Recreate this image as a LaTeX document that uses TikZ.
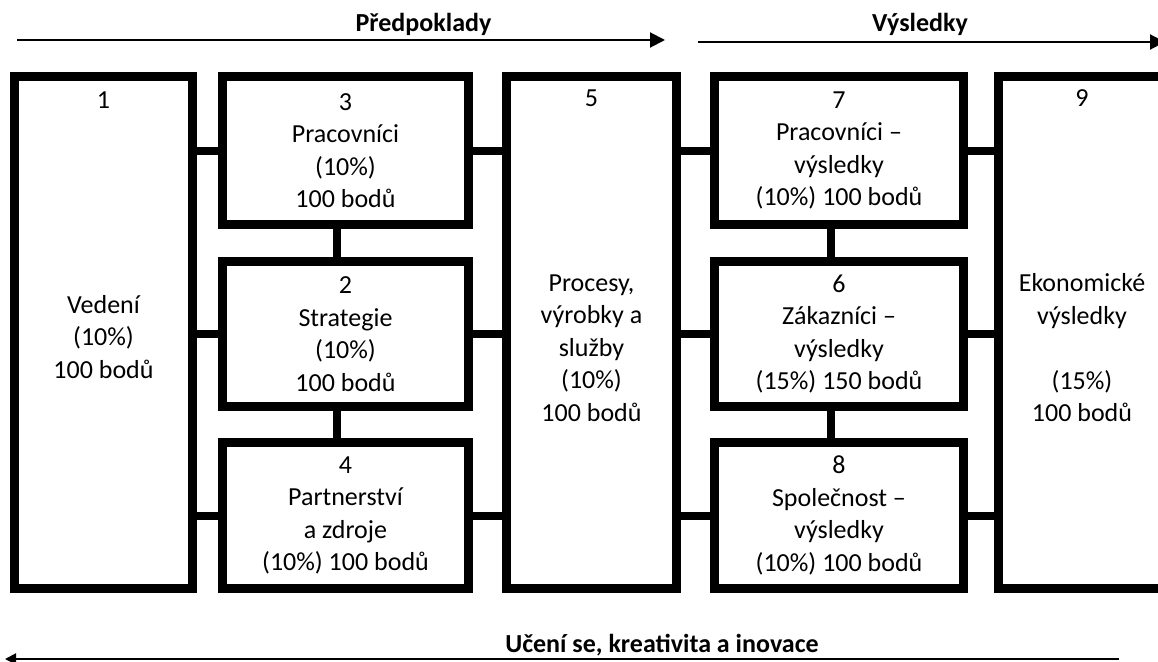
\documentclass[tikz,border=0pt]{standalone}
\usepackage{fontspec}
\setmainfont{Carlito}
\usetikzlibrary{arrows.meta}
\newcommand{\sideLink}[3]{
  \draw[link] (#1.#2) -- (#1.#2 -| #3);
}
\newcommand{\stackLink}[3]{
  \draw[link] ([xshift=#3]#1.south) -- ([xshift=#3]#2.north);
}

\begin{document}
\begin{tikzpicture}[x=1pt, y=-1pt,
  every node/.style={font=\fontsize{26}{32.5}\selectfont},
  box/.style={draw, line width=9pt, inner sep=0pt, align=center},
  link/.style={line width=8pt},
  flow/.style={line width=2pt, -{Triangle[length=15pt, width=15pt]}},
  title/.style={anchor=base, font=\fontsize{26}{32.5}\selectfont\bfseries}]
  \useasboundingbox (0,0) rectangle (1158,661);

  % Boxes
  \node[box, minimum width=178pt, minimum height=512pt] (b1) at (103.5,332.5) {};
  \node[box, minimum width=246pt, minimum height=148pt] (b3) at (345.5,150.5) {3\\Pracovníci\\(10\%)\\100 bodů};
  \node[box, minimum width=246pt, minimum height=145pt] (b2) at (345.5,334) {2\\Strategie\\(10\%)\\100 bodů};
  \node[box, minimum width=246pt, minimum height=146pt] (b4) at (345.5,515.5) {4\\Partnerství\\a zdroje\\(10\%) 100 bodů};
  \node[box, minimum width=170pt, minimum height=512pt] (b5) at (591.5,332.5) {};
  \node[box, minimum width=249pt, minimum height=148pt] (b7) at (839,150.5) {7\\Pracovníci –\\výsledky\\(10\%) 100 bodů};
  \node[box, minimum width=249pt, minimum height=145pt] (b6) at (839,334) {6\\Zákazníci –\\výsledky\\(15\%) 150 bodů};
  \node[box, minimum width=249pt, minimum height=146pt] (b8) at (839,515.5) {8\\Společnost –\\výsledky\\(10\%) 100 bodů};
  \node[box, minimum width=167pt, minimum height=512pt] (b9) at (1082,332.5) {};

  % Texts of the tall boxes
  \node (n1) at (103.5,100) {1};
  \node[align=center] (t1) at (103.5,337) {Vedení\\(10\%)\\100 bodů};
  \node (n5) at (591.5,98) {5};
  \node[align=center] (t5) at (591.5,348) {Procesy,\\výrobky a\\služby\\(10\%)\\100 bodů};
  \node (n9) at (1082,98) {9};
  \node[align=center] (t9) at (1082,348) {Ekonomické\\výsledky\\\mbox{}\\(15\%)\\100 bodů};

  % Links
  \sideLink{b3}{west}{b1.east}
  \sideLink{b2}{west}{b1.east}
  \sideLink{b4}{west}{b1.east}
  \sideLink{b3}{east}{b5.west}
  \sideLink{b2}{east}{b5.west}
  \sideLink{b4}{east}{b5.west}
  \sideLink{b7}{west}{b5.east}
  \sideLink{b6}{west}{b5.east}
  \sideLink{b8}{west}{b5.east}
  \sideLink{b7}{east}{b9.west}
  \sideLink{b6}{east}{b9.west}
  \sideLink{b8}{east}{b9.west}
  \stackLink{b3}{b2}{-9pt}
  \stackLink{b2}{b4}{-9pt}
  \stackLink{b7}{b6}{-8pt}
  \stackLink{b6}{b8}{-8pt}

  % Flows
  \coordinate (p0) at (17,40);
  \coordinate (p1) at (665,40);
  \coordinate (v0) at (698,42);
  \coordinate (v1) at (1165,42);
  \coordinate (u0) at (1119,659);
  \coordinate (u1) at (5,659);
  \draw[flow] (p0) -- (p1);
  \draw[flow] (v0) -- (v1);
  \draw[flow, -{Triangle[length=11pt, width=11pt]}] (u0) -- (u1);
  \node[title] (pred) at (423.5,32) {Předpoklady};
  \node[title] (vysl) at (920,32) {Výsledky};
  \node[title] (uceni) at (662,652) {Učení se, kreativita a inovace};
\end{tikzpicture}
\end{document}
